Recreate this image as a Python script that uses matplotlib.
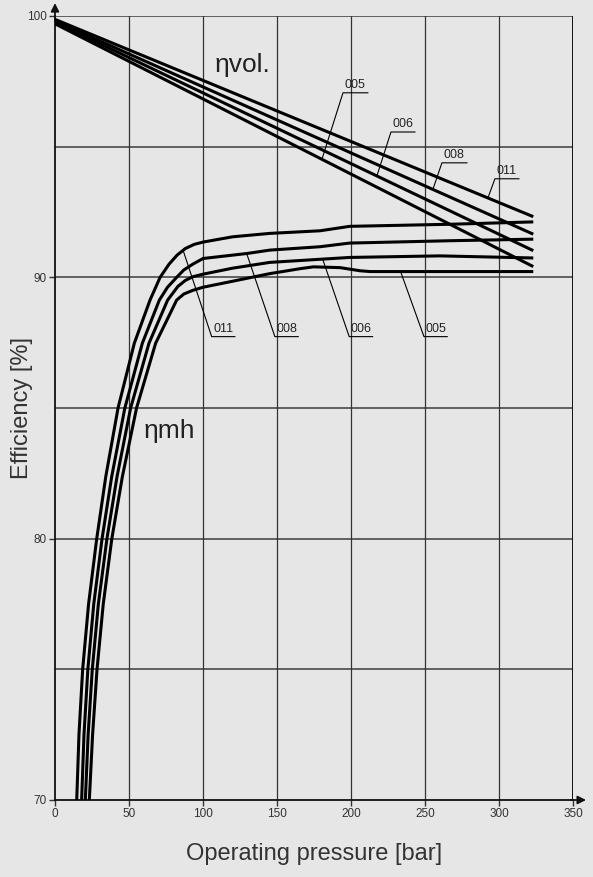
import numpy as np
import matplotlib
matplotlib.use('Agg')
import matplotlib.pyplot as plt

plt.rcParams['font.family'] = ['Liberation Sans', 'DejaVu Sans']

sizes = ['005', '006', '008', '011']

# volumetric efficiency, straight lines from 0 bar to the end of the range
vol_p = [0, 323]
vol_eff = {
    '005': [99.70, 90.41],
    '006': [99.76, 91.02],
    '008': [99.81, 91.65],
    '011': [99.87, 92.32],
}

# mechanical-hydraulic efficiency, steep part (pressure read at fixed efficiency levels)
mh_eff = [70, 72.5, 75, 77.5, 80, 82.37, 85, 87.48, 89.13]
mh_p_low = {
    '005': [23.2, 25.4, 28.4, 32.6, 38.4, 45.5, 55.1, 68.0, 82.2],
    '006': [20.5, 22.4, 25.2, 29.3, 35.1, 41.9, 51.1, 63.5, 76.1],
    '008': [18.0, 19.6, 22.2, 26.2, 31.8, 38.3, 47.2, 59.0, 70.5],
    '011': [14.7, 16.2, 18.7, 22.7, 28.2, 34.3, 42.6, 53.6, 64.2],
}
# flat part
mh_p_high = {
    '005': [87, 93, 100, 120, 145, 165.5, 174.5, 192.6, 206, 213, 323],
    '006': [83, 88, 93, 100, 120, 145, 179, 199, 260, 323],
    '008': [76, 82.2, 87, 93, 100, 129.5, 145, 179, 199, 267, 323],
    '011': [71, 77, 82.5, 88, 94, 100.2, 120, 145, 179, 199, 267, 323],
}
mh_eff_high = {
    '005': [89.36, 89.5, 89.62, 89.85, 90.14, 90.33, 90.40, 90.37, 90.25, 90.22, 90.22],
    '006': [89.65, 89.88, 90.02, 90.12, 90.35, 90.57, 90.69, 90.76, 90.82, 90.74],
    '008': [89.62, 90.0, 90.28, 90.5, 90.72, 90.91, 91.04, 91.17, 91.31, 91.40, 91.46],
    '011': [90.0, 90.5, 90.85, 91.1, 91.26, 91.35, 91.55, 91.68, 91.78, 91.95, 92.03, 92.12],
}

# label leaders: (start p, start eff, elbow p, elbow eff, underline end p)
vol_leaders = {
    '005': (180.3, 94.52, 194.5, 97.06, 211.3),
    '006': (217.4, 93.88, 226.9, 95.56, 243.1),
    '008': (255.2, 93.36, 261.3, 94.38, 278.2),
    '011': (292.4, 93.04, 297.1, 93.77, 313.3),
}
mh_leaders = {
    '011': (86.6, 91.02, 105.8, 87.73, 121.5),
    '008': (129.4, 90.92, 148.5, 87.73, 164.3),
    '006': (180.8, 90.69, 198.7, 87.73, 214.5),
    '005': (233.4, 90.22, 249.2, 87.73, 264.9),
}

bg = '#e6e6e6'
fig = plt.figure(figsize=(5.93, 8.77), dpi=100, facecolor=bg)
ax = fig.add_axes([0.0927, 0.0878, 0.874, 0.894])
ax.set_facecolor(bg)

ax.set_xlim(0, 350)
ax.set_ylim(70, 100)
ax.set_xticks(np.arange(0, 351, 50))
ax.set_yticks([70, 80, 90, 100])
ax.set_yticks([75, 85, 95], minor=True)
ax.tick_params(axis='both', which='major', direction='out', length=4, width=1,
               labelsize=8.5, labelcolor='#333333', color='#333333', pad=2)
ax.tick_params(axis='y', which='minor', length=0)

# grid
for y in [75, 80, 85, 90, 95, 100]:
    ax.axhline(y, color='#555555', lw=1.3, zorder=1)
for x in [50, 100, 150, 200, 250, 300]:
    ax.axvline(x, color='#333333', lw=0.9, zorder=1)
ax.axvline(350, color='#111111', lw=1.4, zorder=1)

for s in ['top', 'right']:
    ax.spines[s].set_visible(False)
for s in ['left', 'bottom']:
    ax.spines[s].set_color('#111111')
    ax.spines[s].set_linewidth(1.3)

# axis arrows
ax.annotate('', xy=(0, 1.02), xycoords='axes fraction', xytext=(0, 0.99),
            arrowprops=dict(arrowstyle='-|>', color='#111111', lw=1.3, mutation_scale=12),
            annotation_clip=False)
ax.annotate('', xy=(1.03, 0), xycoords='axes fraction', xytext=(0.99, 0),
            arrowprops=dict(arrowstyle='-|>', color='#111111', lw=1.3, mutation_scale=12),
            annotation_clip=False)

for s in sizes:
    ax.plot(vol_p, vol_eff[s], color='black', lw=2.2, zorder=3, solid_capstyle='butt')
    p = mh_p_low[s] + mh_p_high[s]
    e = mh_eff + mh_eff_high[s]
    ax.plot(p, e, color='black', lw=2.2, zorder=3, solid_joinstyle='round',
            solid_capstyle='butt', clip_on=False)

for leaders in (vol_leaders, mh_leaders):
    for s, (p0, e0, p1, e1, p2) in leaders.items():
        ax.plot([p0, p1, p2], [e0, e1, e1], color='black', lw=0.8, zorder=4)
        ax.text(p1 + 1.0, e1 + 0.06, s, fontsize=9, color='#222222',
                ha='left', va='bottom', zorder=5)

ax.text(108, 97.87, '\u03b7vol.', fontsize=19, color='#222222', ha='left', va='baseline')
ax.text(59.6, 83.84, '\u03b7mh', fontsize=19, color='#222222', ha='left', va='baseline')

ax.set_xlabel('Operating pressure [bar]', fontsize=17, color='#333333', labelpad=16)
ax.set_ylabel('Efficiency [%]', fontsize=17, color='#333333')
ax.yaxis.set_label_coords(-0.043, 0.5)

fig.savefig('out.png', dpi=100, facecolor=bg)
